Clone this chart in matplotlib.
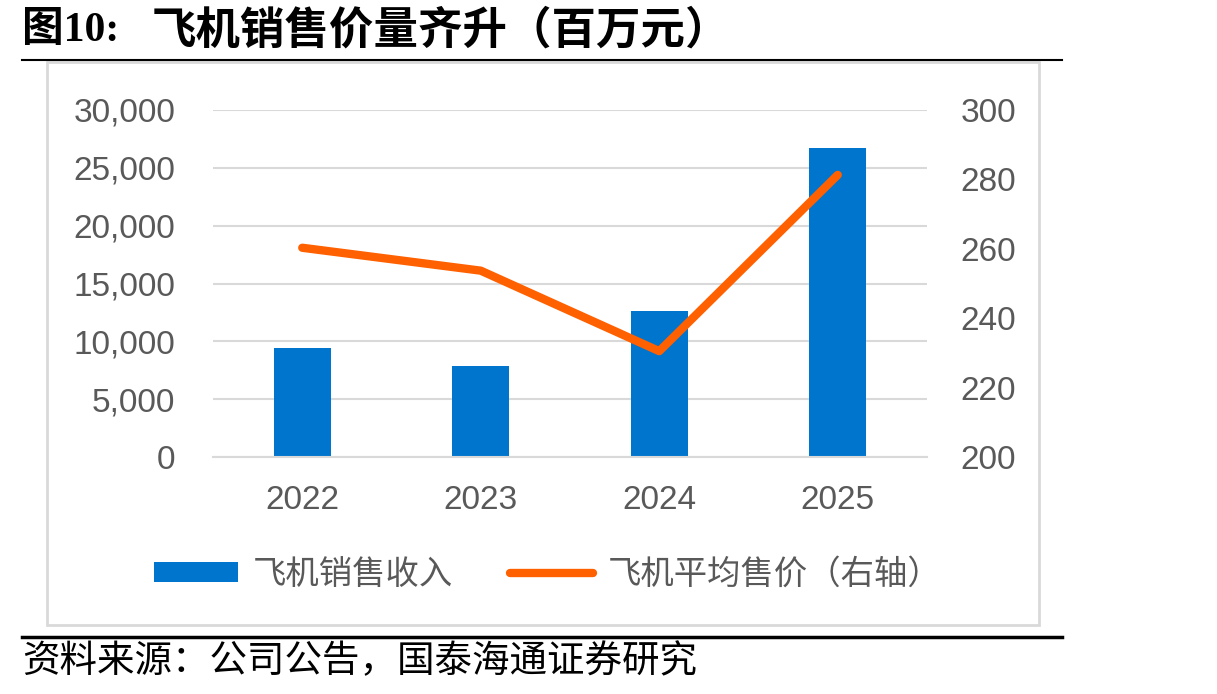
import matplotlib
matplotlib.use('Agg')
import matplotlib.pyplot as plt
from matplotlib.patches import Rectangle
from matplotlib.lines import Line2D
from matplotlib.ticker import FuncFormatter

plt.rcParams['font.family'] = ['Liberation Sans', 'Noto Sans CJK SC', 'DejaVu Sans']

years = ['2022', '2023', '2024', '2025']
revenue = [9450, 7850, 12650, 26700]      # 飞机销售收入（百万元）
avg_price = [260.3, 253.7, 230.5, 281.3]  # 飞机平均售价（右轴）

BLUE = '#0075CE'
ORANGE = '#FF6000'
GREY = '#595959'
GRID = '#D9D9D9'

W, H = 1217, 694
fig = plt.figure(figsize=(W / 100, H / 100), dpi=100)

def fx(px):
    return px / W

def fy(py):
    return 1 - py / H

# frame around the chart
fig.patches.append(Rectangle((fx(47), fy(625)), fx(1039 - 47), fy(62) - fy(625),
                             transform=fig.transFigure, fill=False,
                             edgecolor=GRID, linewidth=2))
fig.lines.append(Line2D([fx(22), fx(1062)], [fy(60), fy(60)], transform=fig.transFigure,
                        color='black', linewidth=1.5))
fig.lines.append(Line2D([fx(22), fx(1062)], [fy(637), fy(637)], transform=fig.transFigure,
                        color='black', linewidth=2.5))

fig.text(fx(22), fy(31), '图10:', fontsize=30, fontweight='bold',
         family=['Liberation Serif', 'Noto Sans CJK SC'], va='center', ha='left')
fig.text(fx(152), fy(31), '飞机销售价量齐升（百万元）', fontsize=32, fontweight='bold',
         family=['Noto Sans CJK SC'], va='center', ha='left')
fig.text(fx(22), fy(662), '资料来源：公司公告，国泰海通证券研究', fontsize=27,
         family=['Noto Sans CJK SC'], va='center', ha='left')

ax = fig.add_axes([fx(213), fy(457), fx(927 - 213), fy(110) - fy(457)])
x = range(len(years))
bars = ax.bar(x, revenue, width=0.32, color=BLUE, label='飞机销售收入', zorder=2)
ax.set_ylim(0, 30000)
ax.set_yticks(range(0, 30001, 5000))
ax.yaxis.set_major_formatter(FuncFormatter(lambda v, p: f'{int(v):,}'))
ax.set_xlim(-0.5, 3.5)
ax.set_xticks(list(x))
ax.set_xticklabels(years)
ax.grid(axis='y', color=GRID, linewidth=1.5, zorder=0)
ax.set_axisbelow(True)
for s in ['top', 'right', 'left']:
    ax.spines[s].set_visible(False)
ax.spines['bottom'].set_color(GRID)
ax.spines['bottom'].set_linewidth(1.5)
ax.tick_params(axis='both', length=0, labelsize=24, colors=GREY)
ax.tick_params(axis='y', pad=27)
ax.tick_params(axis='x', pad=20)

ax2 = ax.twinx()
ln, = ax2.plot(list(x), avg_price, color=ORANGE, linewidth=6, solid_capstyle='round',
               solid_joinstyle='round', label='飞机平均售价（右轴）', zorder=3)
ax2.set_ylim(200, 300)
ax2.set_yticks(range(200, 301, 20))
for s in ax2.spines.values():
    s.set_visible(False)
ax2.tick_params(axis='y', length=0, labelsize=24, colors=GREY, pad=24)

leg = fig.legend([bars, ln], ['飞机销售收入', '飞机平均售价（右轴）'], ncol=2, frameon=False,
                 loc='center', bbox_to_anchor=(fx(548), fy(574)),
                 handlelength=2.5, handleheight=0.55, handletextpad=0.45, columnspacing=1.7,
                 prop={'family': ['Noto Sans CJK SC'], 'size': 24})
for t in leg.get_texts():
    t.set_color(GREY)

fig.savefig('out.png', dpi=100)
